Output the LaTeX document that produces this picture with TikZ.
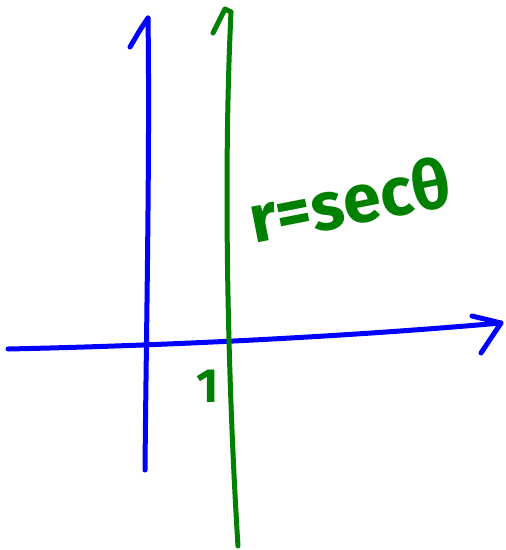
\documentclass[tikz,border=0pt]{standalone}
\usepackage{fontspec}
\setmainfont{Fira Sans}
\definecolor{penblue}{RGB}{0,0,255}
\definecolor{pengreen}{RGB}{0,128,0}
\begin{document}
\begin{tikzpicture}[x=1pt,y=-1pt,
  pen/.style={line width=5pt,line cap=round,line join=round},
  bluepen/.style={pen,draw=penblue},
  greenpen/.style={pen,draw=pengreen},
  handtext/.style={text=pengreen,inner sep=0pt}]
\useasboundingbox[fill=white] (0,0) rectangle (506,550);
% blue vertical axis
\coordinate (yb) at (145,470);
\coordinate (yt) at (148,18);
\coordinate (yh) at (130,47);
\draw[bluepen] (yb) .. controls (146,350) and (150,150) .. (yt);
\draw[bluepen] (yh) -- (140,30) -- (yt);
% blue horizontal axis
\coordinate (xl) at (8,349);
\coordinate (xr) at (501,323);
\coordinate (xu) at (472,316);
\coordinate (xd) at (481,353);
\draw[bluepen] (xl) .. controls (150,346) and (330,338) .. (xr);
\draw[bluepen] (xu) -- (xr) -- (xd);
% green vertical line r = sec theta
\coordinate (gb) at (238,546);
\coordinate (gt) at (231,12);
\coordinate (gh) at (213,33);
\draw[greenpen] (gb) .. controls (230,420) and (222,200) .. (gt);
\draw[greenpen] (gh) -- (225,9) -- (gt);
% labels
\node[handtext,font=\bfseries\fontsize{68}{68}\selectfont,rotate=11,anchor=base west] (eq) at (254,244) {r=secθ};
\node[handtext,font=\bfseries\fontsize{48}{48}\selectfont,anchor=base] (one) at (208,402) {1};
\end{tikzpicture}
\end{document}
